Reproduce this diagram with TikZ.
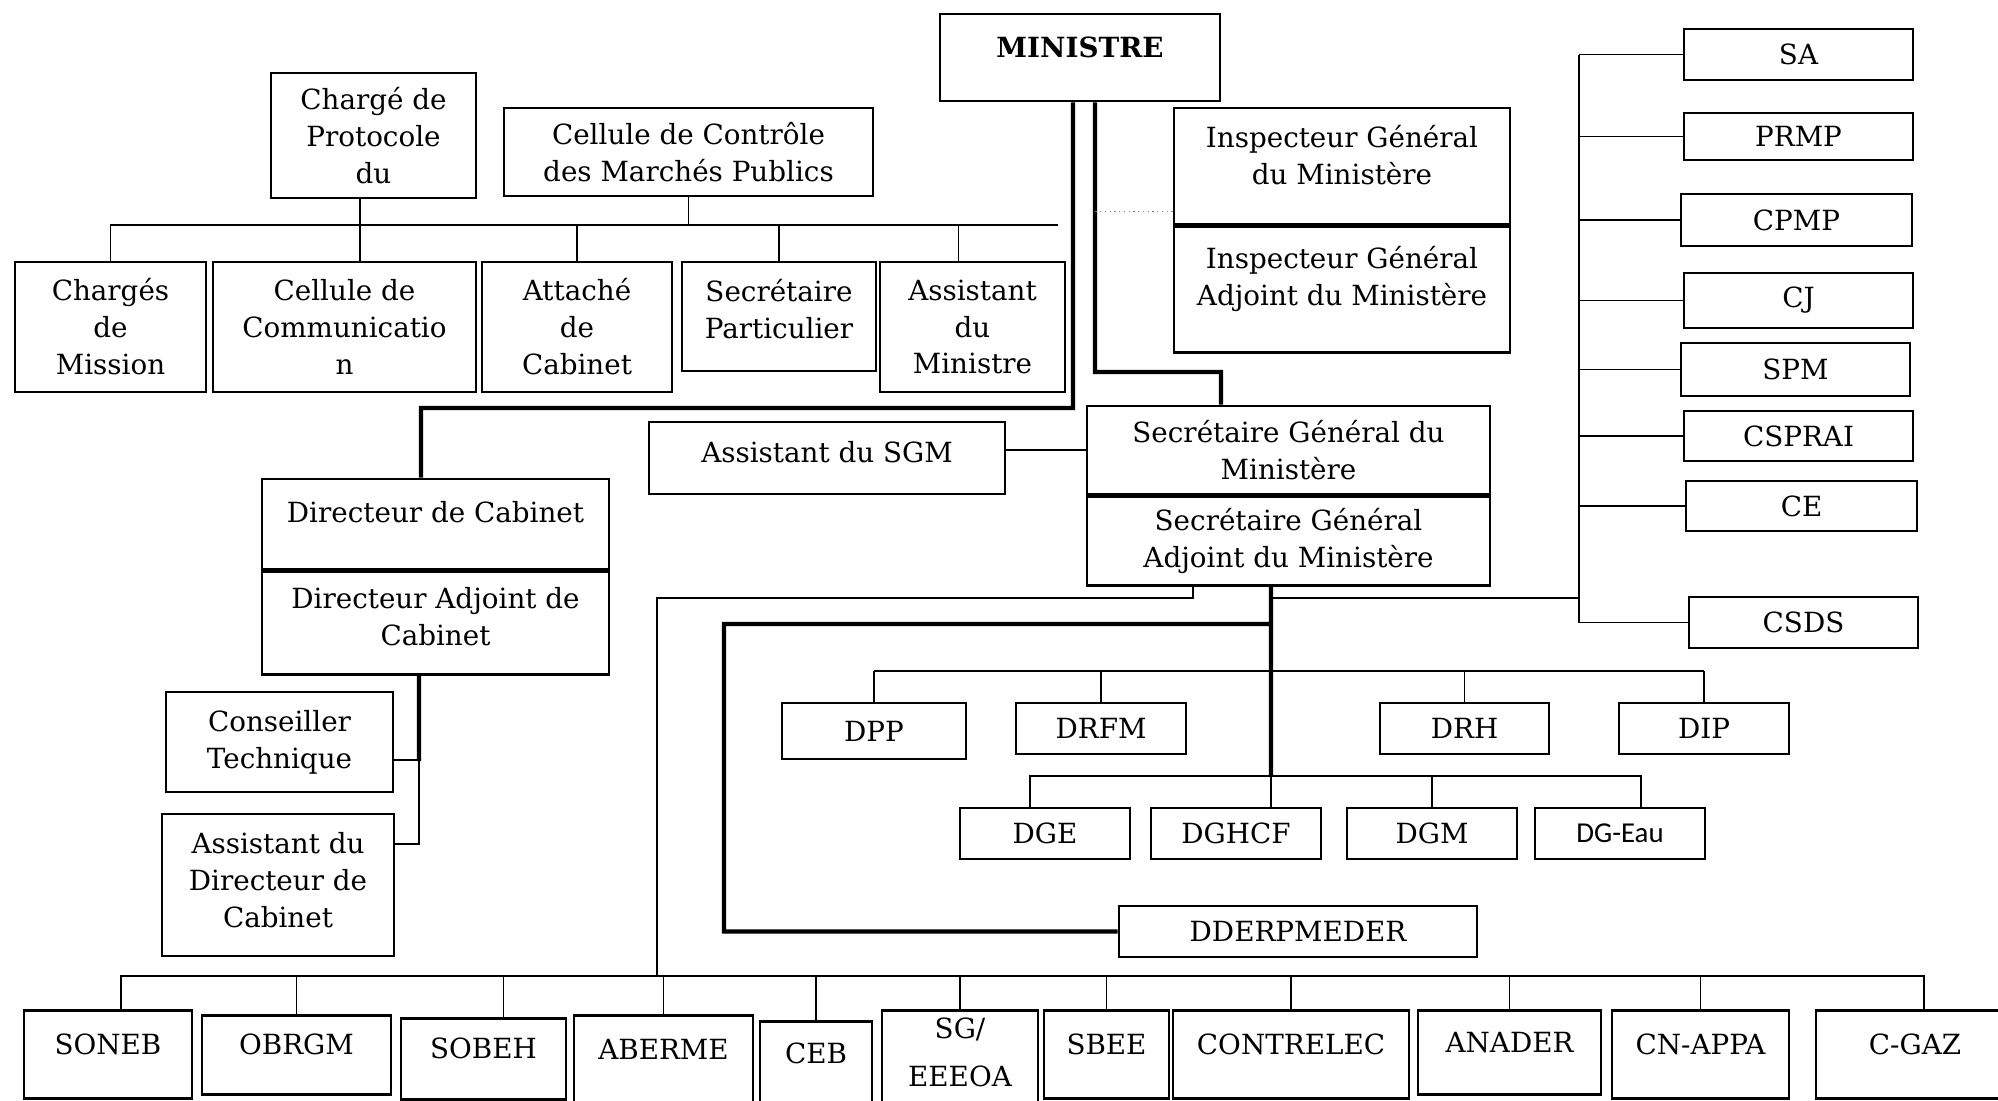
\documentclass[tikz,border=0pt]{standalone}
\usepackage{fontspec}
\setmainfont{DejaVu Serif}
\newfontfamily\calibri{Carlito}
\usetikzlibrary{positioning}
\tikzset{
    x=0.01cm, y=-0.01cm,                        % one unit is one pixel of the sketch, y runs down
    every node/.style={font=\boxfont},          % text of every box
    box/.style={draw, line width=0.75pt, align=center, inner sep=1pt},   % the framed boxes
    firm/.style={box, anchor=north, text height=0.2cm, text depth=0.2cm}, % bottom row, label near the top
    link/.style={line width=0.35pt},            % thin connectors
    spine/.style={line width=1.2pt},            % the bold lines of the hierarchy
}
\newcommand{\boxfont}{\fontsize{7.9}{10.5}\selectfont}
\newcommand{\lift}[1]{\rule[-#1]{0pt}{#1}}     % deeper last line, pushes the text up

\begin{document}
\begin{tikzpicture}
\useasboundingbox (0,0) rectangle (1998,1100);
\clip (0,0) rectangle (1998,1100);

% minister and his cabinet
\node[box, font=\boxfont\bfseries, minimum width=2.8cm, minimum height=0.87cm, text height=0.2cm, text depth=0.2cm] (ministre) at (1080,57.5) {MINISTRE};
\node[box, minimum width=2.05cm, minimum height=1.25cm] (proto) at (373.5,135.5) {Chargé de\\Protocole\\du};
\node[box, minimum width=3.69cm, minimum height=0.88cm] (ccmp) at (688.5,152) {Cellule de Contrôle\\des Marchés Publics};
\node[box, minimum width=1.91cm, minimum height=1.3cm] (mission) at (110.5,327) {Chargés\\de\\Mission};
\node[box, minimum width=2.63cm, minimum height=1.3cm] (comm) at (344.5,327) {Cellule de\\Communicatio\\n};
\node[box, minimum width=1.9cm, minimum height=1.3cm] (attache) at (577,327) {Attaché\\de\\Cabinet};
\node[box, minimum width=1.94cm, minimum height=1.09cm] (secpart) at (779,316.5) {Secrétaire\\Particulier\lift{4.3pt}};
\node[box, minimum width=1.85cm, minimum height=1.3cm] (assmin) at (972.5,327) {Assistant\\du\\Ministre};

\node[box, minimum width=3.36cm, minimum height=1.16cm] (insp) at (1342,166) {Inspecteur Général\\du Ministère\lift{6.2pt}};
\node[box, minimum width=3.36cm, minimum height=1.26cm, below=0pt of insp] (inspadj) {Inspecteur Général\\Adjoint du Ministère\lift{8pt}};

\node[box, minimum width=3.47cm, minimum height=0.9cm, text height=0.2cm, text depth=0.24cm] (dircab) at (435.5,524) {Directeur de Cabinet};
\node[box, minimum width=3.47cm, minimum height=1.03cm, below=0pt of dircab] (dircabadj) {Directeur Adjoint de\\Cabinet\lift{3.7pt}};
\node[box, minimum width=2.27cm, minimum height=1cm] (constech) at (279.5,742) {Conseiller\\Technique};
\node[box, minimum width=2.32cm, minimum height=1.42cm] (assdc) at (278,885) {Assistant du\\Directeur de\\Cabinet\lift{2.8pt}};

% general secretariat
\node[box, minimum width=4.03cm, minimum height=0.88cm] (sgm) at (1288.5,450) {Secrétaire Général du\\Ministère};
\node[box, minimum width=4.03cm, minimum height=0.89cm, below=0pt of sgm] (sgam) {Secrétaire Général\\Adjoint du Ministère};
\node[box, minimum width=3.56cm, minimum height=0.72cm, text height=0.2cm, text depth=0.12cm] (asgm) at (827,458) {Assistant du SGM};

\node[box, minimum width=2.29cm, minimum height=0.51cm] (sa) at (1798.5,54.5) {SA};
\node[box, minimum width=2.29cm, minimum height=0.47cm] (prmp) at (1798.5,136.5) {PRMP};
\node[box, minimum width=2.31cm, minimum height=0.52cm] (cpmp) at (1796.5,220) {CPMP};
\node[box, minimum width=2.29cm, minimum height=0.55cm] (cj) at (1798.5,300.5) {CJ};
\node[box, minimum width=2.29cm, minimum height=0.53cm] (spm) at (1795.5,369.5) {SPM};
\node[box, minimum width=2.29cm, minimum height=0.5cm] (csprai) at (1798.5,436) {CSPRAI};
\node[box, minimum width=2.31cm, minimum height=0.5cm] (ce) at (1801.5,506) {CE};
\node[box, minimum width=2.29cm, minimum height=0.51cm] (csds) at (1803.5,622.5) {CSDS};

\node[box, minimum width=1.84cm, minimum height=0.56cm] (dpp) at (874,731) {DPP};
\node[box, minimum width=1.7cm, minimum height=0.51cm] (drfm) at (1101,728.5) {DRFM};
\node[box, minimum width=1.69cm, minimum height=0.51cm] (drh) at (1464.5,728.5) {DRH};
\node[box, minimum width=1.7cm, minimum height=0.51cm] (dip) at (1704,728.5) {DIP};
\node[box, minimum width=1.7cm, minimum height=0.51cm] (dge) at (1045,833.5) {DGE};
\node[box, minimum width=1.7cm, minimum height=0.51cm] (dghcf) at (1236,833.5) {DGHCF};
\node[box, minimum width=1.7cm, minimum height=0.51cm] (dgm) at (1432,833.5) {DGM};
\node[box, font=\calibri\fontsize{8.2}{10}\selectfont, minimum width=1.7cm, minimum height=0.51cm] (dgeau) at (1620,833.5) {DG-Eau};
\node[box, minimum width=3.58cm, minimum height=0.51cm] (dderp) at (1298,931.5) {DDERPMEDER};

% supervised bodies
\node[firm, minimum width=1.68cm, minimum height=0.88cm] (soneb) at (108,1009) {SONEB};
\node[firm, minimum width=1.89cm, minimum height=0.79cm] (obrgm) at (296.5,1014) {OBRGM};
\node[firm, minimum width=1.65cm, minimum height=0.81cm] (sobeh) at (483.5,1017) {SOBEH};
\node[firm, minimum width=1.79cm, minimum height=0.88cm] (aberme) at (663.5,1014) {ABERME};
\node[firm, minimum width=1.12cm, minimum height=0.84cm] (ceb) at (816,1020) {CEB};
\node[box, anchor=north, minimum width=1.56cm, minimum height=1.1cm] (sgeeeoa) at (960,1009) {SG/\\[3.3pt]EEEOA\lift{7.4pt}};
\node[firm, minimum width=1.25cm, minimum height=0.88cm] (sbee) at (1106.5,1009) {SBEE};
\node[firm, minimum width=2.36cm, minimum height=0.88cm] (contrelec) at (1291,1009) {CONTRELEC};
\node[firm, minimum width=1.83cm, minimum height=0.84cm] (anader) at (1509.5,1009) {ANADER};
\node[firm, minimum width=1.77cm, minimum height=0.88cm] (cnappa) at (1700.5,1009) {CN-APPA};
\node[firm, minimum width=1.98cm, minimum height=0.88cm] (cgaz) at (1915,1009) {C-GAZ};

\coordinate (tbus) at (1058,225);
\coordinate (cabknee) at (421,408);
\coordinate (sgknee) at (1221,372);
\coordinate (m2) at ([xshift=0.15cm]ministre.south);
\coordinate (dotpt) at ([yshift=0.14cm]insp.south west);
\coordinate (dcs) at ([xshift=-0.165cm]dircabadj.south);
\coordinate (sgs) at ([xshift=-0.175cm]sgam.south);
\coordinate (lknee) at (724,624);
\coordinate (rbus) at (1579,598);
\coordinate (bus1) at (1271,671);
\coordinate (bus2) at (1271,776);
\coordinate (bbus) at (657,976);

\draw[spine]
([xshift=-0.07cm]ministre.south) |- (cabknee) -- (cabknee |- dircab.north)
(m2) |- (sgknee) -- (sgknee |- sgm.north)
(dcs) -- ++(0,-0.85cm)
(sgs) -- (bus2)
(sgs |- lknee) -- (lknee) |- (dderp.west);
\draw[line width=0.8pt] (sgs |- rbus) -- (rbus);
\draw[link, densely dotted, gray] (dotpt) -- (m2 |- dotpt);

\draw[link]
(mission.north) |- (tbus)
(attache.north) -- (attache.north |- tbus)
(secpart.north) -- (secpart.north |- tbus)
([xshift=-0.14cm]assmin.north) -- ++(0,0.37cm)
([xshift=-0.135cm]proto.south) -- ++(0,-0.64cm)
(ccmp.south) -- (ccmp.south |- tbus)
([yshift=-0.18cm]constech.east) -| (dcs)
([yshift=0.41cm]assdc.east) -| (dcs)
(sgm.west) -- (sgm.west -| asgm.east)
(rbus |- sa.west) -- (rbus |- csds.west)
(rbus |- sa.west) -- (sa.west)
(rbus |- prmp.west) -- (prmp.west)
(rbus |- cpmp.west) -- (cpmp.west)
(rbus |- cj.west) -- (cj.west)
(rbus |- spm.west) -- (spm.west)
(rbus |- csprai.west) -- (csprai.west)
(rbus |- ce.west) -- (ce.west)
(rbus |- csds.west) -- (csds.west)
(dpp.north |- bus1) -- (dip.north |- bus1)
(dpp.north) -- (dpp.north |- bus1)
(drfm.north) -- (drfm.north |- bus1)
(drh.north) -- (drh.north |- bus1)
(dip.north) -- (dip.north |- bus1)
([xshift=-0.15cm]dge.north) |- (bus2) -| ([xshift=0.21cm]dgeau.north)
(bus2) -- (bus2 |- dghcf.north)
(dgm.north) -- (dgm.north |- bus2)
([xshift=-0.955cm]sgam.south) |- (bbus |- rbus) -- (bbus)
([xshift=0.13cm]soneb.north) |- (bbus) -| ([xshift=0.09cm]cgaz.north)
(obrgm.north) -- (obrgm.north |- bbus)
([xshift=0.2cm]sobeh.north) -- ++(0,0.41cm)
(aberme.north) -- (aberme.north |- bbus)
(ceb.north) -- (ceb.north |- bbus)
(sgeeeoa.north) -- (sgeeeoa.north |- bbus)
(sbee.north) -- (sbee.north |- bbus)
(contrelec.north) -- (contrelec.north |- bbus)
(anader.north) -- (anader.north |- bbus)
(cnappa.north) -- (cnappa.north |- bbus);

\end{tikzpicture}
\end{document}
